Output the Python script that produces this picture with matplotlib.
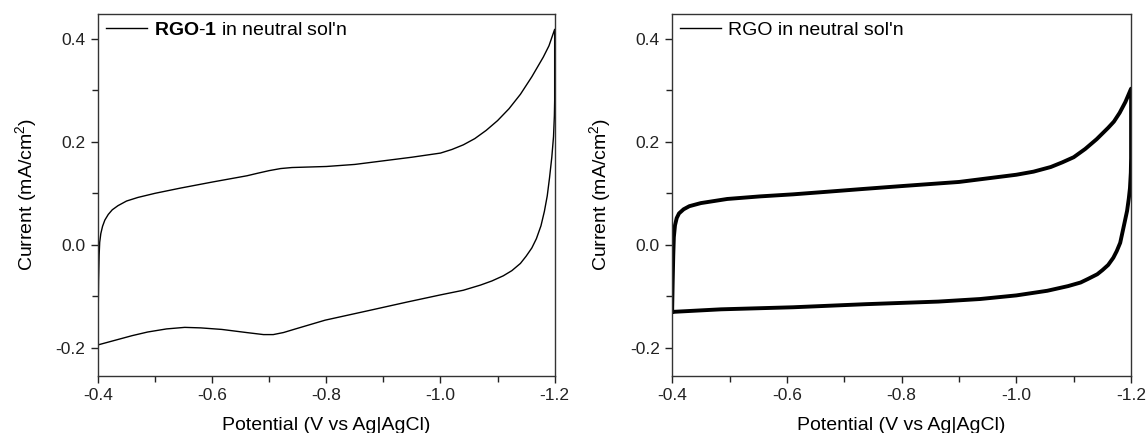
import matplotlib.pyplot as plt
from matplotlib.lines import Line2D
from matplotlib.ticker import MultipleLocator

plt.rcParams['font.family'] = ['Liberation Sans', 'DejaVu Sans']
plt.rcParams['mathtext.fontset'] = 'custom'
plt.rcParams['mathtext.rm'] = 'Liberation Sans'
plt.rcParams['mathtext.bf'] = 'Liberation Sans:bold'

# RGO-1, upper branch (scan -0.4 -> -1.2)
rgo1_up_v = [-0.400, -0.4005, -0.401, -0.402, -0.403, -0.405, -0.408, -0.412,
             -0.418, -0.425, -0.435, -0.45, -0.47, -0.50, -0.544, -0.601,
             -0.661, -0.68, -0.70, -0.72, -0.74, -0.77, -0.80, -0.85, -0.90,
             -0.95, -1.00, -1.02, -1.04, -1.06, -1.08, -1.10, -1.12, -1.14,
             -1.16, -1.18, -1.19, -1.20]
rgo1_up_i = [-0.170, -0.120, -0.070, -0.020, 0.005, 0.022, 0.036, 0.048,
             0.059, 0.068, 0.076, 0.085, 0.092, 0.100, 0.110, 0.122,
             0.134, 0.139, 0.144, 0.148, 0.150, 0.151, 0.152, 0.156, 0.163,
             0.170, 0.178, 0.185, 0.194, 0.206, 0.222, 0.241, 0.264, 0.292,
             0.326, 0.364, 0.386, 0.418]
# RGO-1, lower branch (scan -1.2 -> -0.4)
rgo1_dn_v = [-1.200, -1.1995, -1.198, -1.195, -1.191, -1.187, -1.182, -1.176,
             -1.168, -1.16, -1.15, -1.14, -1.125, -1.11, -1.09, -1.07, -1.04,
             -1.00, -0.941, -0.876, -0.798, -0.746, -0.725, -0.707, -0.69,
             -0.66, -0.617, -0.58, -0.552, -0.52, -0.487, -0.46, -0.43, -0.40]
rgo1_dn_i = [0.280, 0.250, 0.210, 0.170, 0.130, 0.095, 0.065, 0.037,
             0.012, -0.006, -0.022, -0.036, -0.050, -0.060, -0.070, -0.078, -0.088,
             -0.097, -0.111, -0.127, -0.146, -0.163, -0.170, -0.174, -0.174,
             -0.170, -0.164, -0.161, -0.160, -0.163, -0.169, -0.176, -0.185, -0.194]

# RGO, upper branch
rgo_up_v = [-0.400, -0.401, -0.402, -0.403, -0.405, -0.408, -0.412, -0.42,
            -0.43, -0.45, -0.496, -0.553, -0.611, -0.67, -0.728, -0.80, -0.90,
            -1.00, -1.03, -1.06, -1.08, -1.10, -1.12, -1.14, -1.16, -1.17,
            -1.18, -1.19, -1.20]
rgo_up_i = [-0.130, -0.070, -0.020, 0.015, 0.038, 0.052, 0.061, 0.069,
            0.075, 0.081, 0.089, 0.094, 0.098, 0.103, 0.108, 0.114, 0.122,
            0.136, 0.142, 0.151, 0.160, 0.170, 0.186, 0.205, 0.227, 0.239,
            0.256, 0.277, 0.303]
# RGO, lower branch
rgo_dn_v = [-1.200, -1.1995, -1.198, -1.196, -1.193, -1.188, -1.181, -1.175,
            -1.169, -1.16, -1.15, -1.141, -1.125, -1.112, -1.09, -1.054, -1.00,
            -0.937, -0.864, -0.738, -0.611, -0.485, -0.40]
rgo_dn_i = [0.168, 0.140, 0.110, 0.090, 0.066, 0.040, 0.004, -0.012,
            -0.025, -0.039, -0.049, -0.057, -0.066, -0.073, -0.080, -0.089, -0.098,
            -0.105, -0.110, -0.115, -0.121, -0.125, -0.130]

fig = plt.figure(figsize=(11.46, 4.33), dpi=100)
ax1 = fig.add_axes([0.0855, 0.132, 0.3985, 0.836])
ax2 = fig.add_axes([0.5865, 0.132, 0.4005, 0.836])

ax1.plot(rgo1_up_v + rgo1_dn_v, rgo1_up_i + rgo1_dn_i, color='black', lw=1.0)
ax2.plot(rgo_up_v + rgo_dn_v, rgo_up_i + rgo_dn_i, color='black', lw=2.8,
         solid_joinstyle='round')

labels = [r"$\mathbf{RGO}$-$\mathbf{1}$ in neutral sol'n", "RGO in neutral sol'n"]
for ax, lab in zip([ax1, ax2], labels):
    ax.set_xlim(-0.4, -1.2)
    ax.set_ylim(-0.254, 0.448)
    ax.xaxis.set_major_locator(MultipleLocator(0.2))
    ax.xaxis.set_minor_locator(MultipleLocator(0.1))
    ax.yaxis.set_major_locator(MultipleLocator(0.2))
    ax.yaxis.set_minor_locator(MultipleLocator(0.1))
    ax.xaxis.set_major_formatter(lambda v, p: f"{v:.1f}")
    ax.yaxis.set_major_formatter(lambda v, p: f"{v:.1f}")
    ax.tick_params(which='major', direction='out', length=5, width=1,
                   labelsize=12.5, colors='#222222', pad=4)
    ax.tick_params(which='minor', direction='out', length=4, width=1,
                   colors='#222222')
    for s in ax.spines.values():
        s.set_color('#333333')
        s.set_linewidth(1.0)
    ax.set_xlabel('Potential (V vs Ag|AgCl)', fontsize=14, labelpad=10)
    ax.set_ylabel('Current (mA/cm$^2$)', fontsize=14, labelpad=11)
    h = Line2D([], [], color='black', lw=1.0)
    ax.legend([h], [lab], loc='upper left', frameon=False, fontsize=14,
              handlelength=2.1, handletextpad=0.36, borderaxespad=0.1,
              borderpad=0.3)

fig.savefig('out.png', dpi=100)
